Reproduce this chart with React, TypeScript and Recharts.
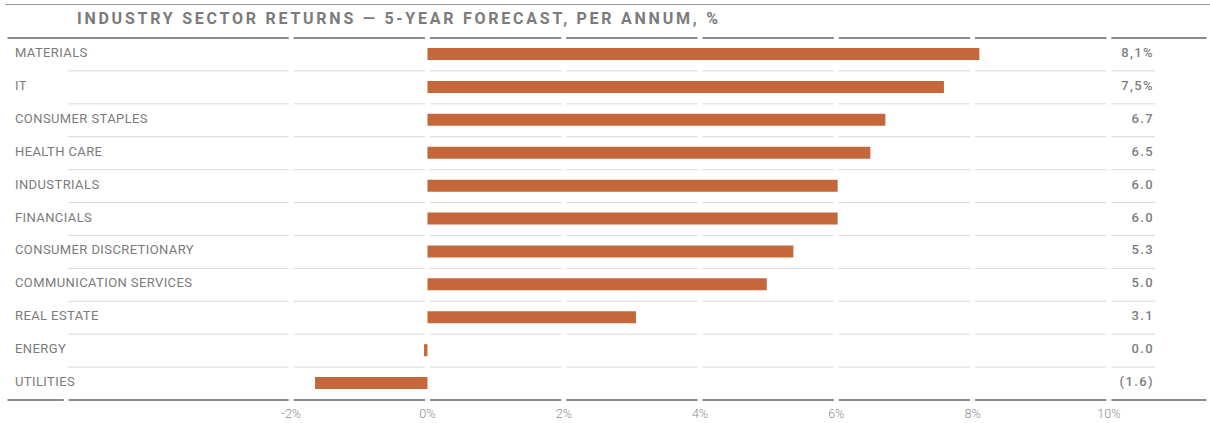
import { BarChart, Bar, XAxis, YAxis, CartesianGrid, ReferenceLine } from 'recharts';

const categories = [
  'MATERIALS',
  'IT',
  'CONSUMER STAPLES',
  'HEALTH CARE',
  'INDUSTRIALS',
  'FINANCIALS',
  'CONSUMER DISCRETIONARY',
  'COMMUNICATION SERVICES',
  'REAL ESTATE',
  'ENERGY',
  'UTILITIES',
];

const returns = [8.1, 7.58, 6.72, 6.5, 6.02, 6.02, 5.37, 4.98, 3.06, -0.05, -1.65];

const valueLabels = ['8,1%', '7,5%', '6.7', '6.5', '6.0', '6.0', '5.3', '5.0', '3.1', '0.0', '(1.6)'];

const xTicks = [-2, 0, 2, 4, 6, 8, 10];

const data = categories.map((name, i) => ({ name, value: returns[i], label: valueLabels[i] }));

const GRAY_TEXT = '#7b7b7b';
const BAR_COLOR = '#c4673a';

const LeftTick = ({ y, payload }: any) => (
  <text
    x={15}
    y={y + 2.5}
    fill={GRAY_TEXT}
    fontSize={13}
    fontFamily="Roboto, sans-serif"
    letterSpacing={0.4}
    textAnchor="start"
  >
    {payload.value}
  </text>
);

const RightTick = ({ x, y, payload }: any) => {
  const item = data.find((d) => d.name === payload.value);
  return (
    <text
      x={x - 63}
      y={y + 2.5}
      fill="#7d7d7d"
      fontSize={13}
      fontWeight={500}
      fontFamily="Roboto, sans-serif"
      textAnchor="end"
      letterSpacing={1.4}
    >
      {item?.label}
    </text>
  );
};

const rowBoundaries = ({ offset }: any) => {
  const out: number[] = [];
  for (let i = 0; i <= categories.length; i++) {
    out.push(offset.top + (offset.height * i) / categories.length);
  }
  return out;
};

const HorizontalLine = (props: any) => {
  const { x1, x2, y1, index } = props;
  const last = index === categories.length;
  if (index === 0 || last) {
    return <line key={`h-${index}`} x1={x1} x2={x2} y1={y1} y2={y1} stroke="#8a8a8a" strokeWidth={2} />;
  }
  return <line key={`h-${index}`} x1={x1 + 63} x2={x2 - 54} y1={y1} y2={y1} stroke="#d9d9d9" strokeWidth={1} />;
};

const VerticalLine = (props: any) => {
  const { x1, y1, y2, index } = props;
  return <line key={`v-${index}`} x1={x1} x2={x1} y1={y1 - 3} y2={y2 + 3} stroke="#ffffff" strokeWidth={5} />;
};

const BottomGap = (props: any) => {
  const yb = Math.max(props.y1, props.y2);
  return <line x1={props.x1} x2={props.x1} y1={yb - 4} y2={yb + 3} stroke="#ffffff" strokeWidth={5} />;
};

export default function App() {
  return (
    <div style={{ position: 'relative', width: 1210, height: 423, background: '#fff' }}>
      <style>{'body{margin:0;}'}</style>
      <div
        style={{
          position: 'absolute',
          left: 5,
          right: 0,
          top: 4,
          borderTop: '1.5px solid #9a9a9a',
        }}
      />
      <div
        style={{
          position: 'absolute',
          left: 77,
          top: 9,
          fontFamily: 'Roboto, sans-serif',
          fontWeight: 'bold',
          fontSize: 16,
          letterSpacing: 2.75,
          color: GRAY_TEXT,
          whiteSpace: 'nowrap',
        }}
      >
        INDUSTRY SECTOR RETURNS — 5-YEAR FORECAST, PER ANNUM, %
      </div>
      <BarChart
        width={1210}
        height={423}
        data={data}
        layout="vertical"
        margin={{ top: 38, right: 0, left: 0, bottom: 0 }}
        barCategoryGap={0}
      >
        <CartesianGrid
          horizontal={HorizontalLine}
          vertical={VerticalLine}
          horizontalCoordinatesGenerator={rowBoundaries}
          stroke="#d9d9d9"
        />
        <XAxis
          type="number"
          domain={[-6.2, 11.47]}
          ticks={xTicks}
          allowDataOverflow
          tickFormatter={(v: number) => `${v}%`}
          axisLine={false}
          tickLine={false}
          tickMargin={3}
          height={23}
          tick={{ fill: '#8a8a8a', fontSize: 12.5, fontWeight: 300, fontFamily: 'Roboto, sans-serif' }}
        />
        <YAxis
          yAxisId="left"
          type="category"
          dataKey="name"
          width={5}
          axisLine={false}
          tickLine={false}
          tick={<LeftTick />}
          interval={0}
        />
        <YAxis
          yAxisId="right"
          orientation="right"
          type="category"
          dataKey="name"
          width={1}
          axisLine={false}
          tickLine={false}
          tick={<RightTick />}
          interval={0}
        />
        <ReferenceLine yAxisId="left" x={-5.3} stroke="#ffffff" shape={BottomGap} />
        <Bar yAxisId="left" dataKey="value" fill={BAR_COLOR} barSize={12} isAnimationActive={false} />
      </BarChart>
    </div>
  );
}
